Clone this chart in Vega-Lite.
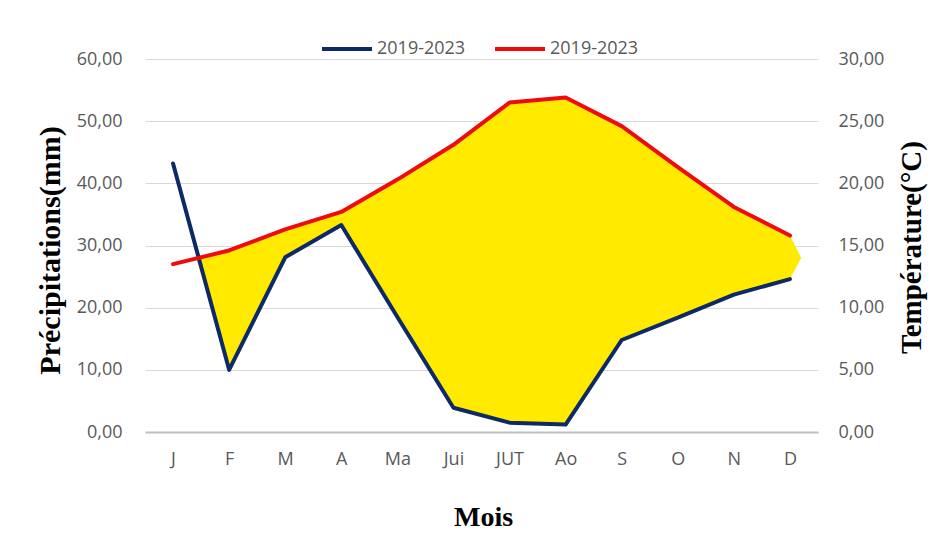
{
  "$schema": "https://vega.github.io/schema/vega-lite/v6.json",
  "autosize": {"type": "none"},
  "width": 673,
  "height": 373,
  "padding": {"left": 145, "top": 59, "right": 120, "bottom": 111},
  "background": "white",
  "datasets": {
    "climate": [
      {"m": 1, "month": "J", "precip": 43.2, "temp": 13.5},
      {"m": 2, "month": "F", "precip": 10.0, "temp": 14.6},
      {"m": 3, "month": "M", "precip": 28.1, "temp": 16.3},
      {"m": 4, "month": "A", "precip": 33.3, "temp": 17.7},
      {"m": 5, "month": "Ma", "precip": 18.5, "temp": 20.3},
      {"m": 6, "month": "Jui", "precip": 3.9, "temp": 23.1},
      {"m": 7, "month": "JUT", "precip": 1.5, "temp": 26.5},
      {"m": 8, "month": "Ao", "precip": 1.2, "temp": 26.9},
      {"m": 9, "month": "S", "precip": 14.8, "temp": 24.6},
      {"m": 10, "month": "O", "precip": 18.4, "temp": 21.3},
      {"m": 11, "month": "N", "precip": 22.1, "temp": 18.1},
      {"m": 12, "month": "D", "precip": 24.6, "temp": 15.8}
    ],
    "dry": [
      {"m": 1.41, "low": 28.1, "high": 28.1},
      {"m": 2, "low": 10.0, "high": 29.2},
      {"m": 3, "low": 28.1, "high": 32.6},
      {"m": 4, "low": 33.3, "high": 35.4},
      {"m": 5, "low": 18.5, "high": 40.6},
      {"m": 6, "low": 3.9, "high": 46.2},
      {"m": 7, "low": 1.5, "high": 53.0},
      {"m": 8, "low": 1.2, "high": 53.8},
      {"m": 9, "low": 14.8, "high": 49.2},
      {"m": 10, "low": 18.4, "high": 42.6},
      {"m": 11, "low": 22.1, "high": 36.2},
      {"m": 12, "low": 24.6, "high": 31.6},
      {"m": 12.2, "low": 28.0, "high": 28.0}
    ]
  },
  "config": {
    "view": {"stroke": null},
    "axis": {
      "labelFont": "Open Sans",
      "labelFontSize": 18,
      "labelColor": "#595959",
      "titleFont": "Liberation Serif",
      "titleFontWeight": "bold",
      "titleFontSize": 29,
      "titleColor": "#000000"
    },
    "legend": {
      "labelFont": "Open Sans",
      "labelFontSize": 18,
      "labelColor": "#595959"
    }
  },
  "encoding": {
    "x": {
      "field": "m",
      "type": "quantitative",
      "scale": {"domain": [0.5, 12.5], "nice": false, "zero": false},
      "axis": {
        "title": "Mois",
        "values": [1, 2, 3, 4, 5, 6, 7, 8, 9, 10, 11, 12],
        "labelExpr": "['J','F','M','A','Ma','Jui','JUT','Ao','S','O','N','D'][datum.value - 1]",
        "grid": false,
        "ticks": false,
        "domain": true,
        "domainColor": "#BFBFBF",
        "domainWidth": 2,
        "labelPadding": 18,
        "titleFontSize": 28,
        "titleX": 338,
        "titleY": 93,
        "titleAlign": "center",
        "titleBaseline": "alphabetic"
      }
    }
  },
  "layer": [
    {
      "data": {"name": "dry"},
      "mark": {"type": "area", "color": "#FFEA00", "opacity": 1},
      "encoding": {
        "y": {"field": "low", "type": "quantitative", "scale": {"domain": [0, 60], "nice": false}, "axis": null},
        "y2": {"field": "high"}
      }
    },
    {
      "data": {"name": "climate"},
      "mark": {"type": "line", "strokeWidth": 4, "strokeCap": "round", "strokeJoin": "round"},
      "encoding": {
        "y": {
          "field": "precip",
          "type": "quantitative",
          "scale": {"domain": [0, 60], "nice": false},
          "axis": {
            "orient": "left",
            "title": "Précipitations(mm)",
            "values": [0, 10, 20, 30, 40, 50, 60],
            "labelExpr": "replace(format(datum.value, '.2f'), '.', ',')",
            "grid": true,
            "gridColor": "#D9D9D9",
            "gridWidth": 1,
            "domain": false,
            "ticks": false,
            "labelPadding": 23,
            "titleFontSize": 30,
            "titleAngle": 270,
            "titleX": -86,
            "titleY": 191,
            "titleAlign": "center",
            "titleBaseline": "alphabetic"
          }
        },
        "color": {
          "datum": "P",
          "type": "nominal",
          "scale": {"domain": ["P", "T"], "range": ["#0D2A66", "#F00A0A"]},
          "legend": {
            "title": null,
            "orient": "none",
            "direction": "horizontal",
            "legendX": 175,
            "legendY": -37,
            "symbolType": "stroke",
            "symbolSize": 2500,
            "symbolStrokeWidth": 4,
            "labelOffset": 3,
            "columnPadding": 21,
            "padding": 0,
            "labelExpr": "'2019-2023'"
          }
        }
      }
    },
    {
      "data": {"name": "climate"},
      "mark": {"type": "line", "strokeWidth": 4, "strokeCap": "round", "strokeJoin": "round"},
      "encoding": {
        "y": {
          "field": "temp",
          "type": "quantitative",
          "scale": {"domain": [0, 30], "nice": false},
          "axis": {
            "orient": "right",
            "title": "Température(°C)",
            "values": [0, 5, 10, 15, 20, 25, 30],
            "labelExpr": "replace(format(datum.value, '.2f'), '.', ',')",
            "grid": false,
            "domain": false,
            "ticks": false,
            "labelPadding": 20,
            "titleAngle": 270,
            "titleX": 102,
            "titleY": 188,
            "titleAlign": "center",
            "titleBaseline": "alphabetic"
          }
        },
        "color": {"datum": "T", "type": "nominal"}
      }
    }
  ],
  "resolve": {"scale": {"y": "independent"}}
}
